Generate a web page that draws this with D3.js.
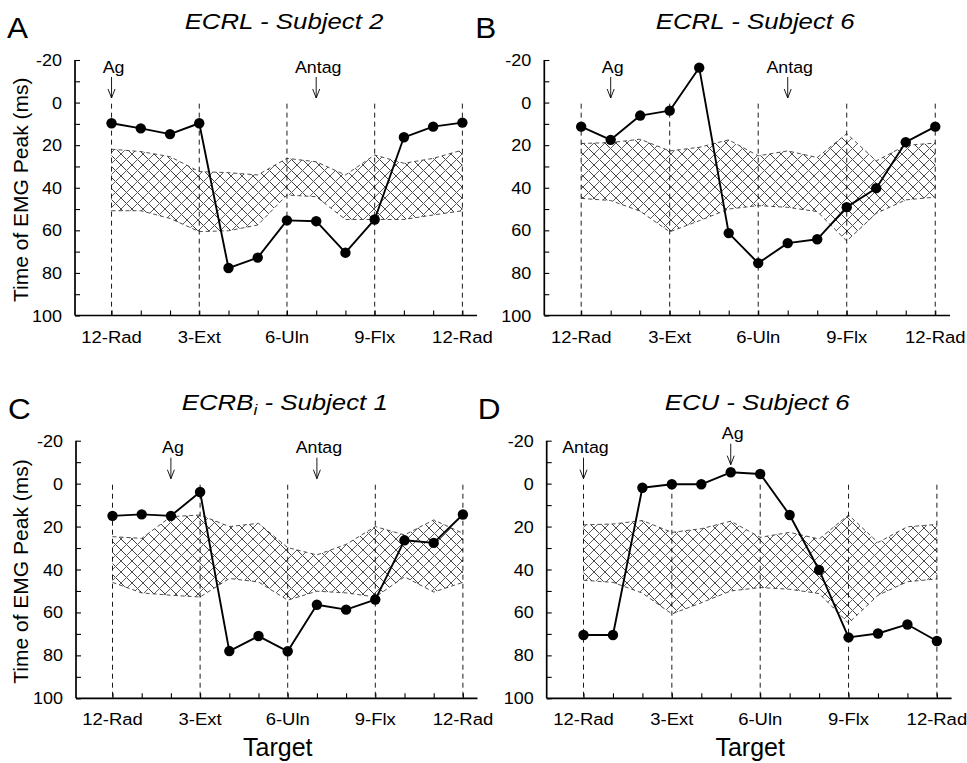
<!DOCTYPE html>
<html>
<head>
<meta charset="utf-8">
<script src="https://cdn.jsdelivr.net/npm/d3@7"></script>
<style>
  html, body { margin: 0; padding: 0; background: #fff; }
  svg { display: block; font-family: "Liberation Sans", Arial, Helvetica, sans-serif; }
</style>
</head>
<body>
<svg id="fig" width="967" height="763"></svg>
<script>
// ---- data -------------------------------------------------------------
// 13 targets around the clock (0 = 12-Rad ... 12 = 12-Rad again)
const targetIndex = d3.range(13);
const majorTargets = [0, 3, 6, 9, 12];
const majorLabels = ["12-Rad", "3-Ext", "6-Uln", "9-Flx", "12-Rad"];
const yLabelTicks = [-20, 0, 20, 40, 60, 80, 100];
const yMinorTicks = [-20, -10, 0, 10, 20, 30, 40, 50, 60, 70, 80, 90, 100];

// Time of EMG peak (ms) for the probed muscle
const peakA = [9.7, 12.1, 14.8, 9.7, 77.7, 72.8, 55.3, 55.7, 70.5, 54.9, 16.3, 11.3, 9.4];
const peakB = [11.3, 17.5, 6.1, 3.8, -16.4, 61.3, 75.4, 66, 64.2, 49.1, 40.2, 18.6, 11.3];
const peakC = [15, 14.3, 15, 3.9, 78, 71, 78.1, 56.4, 58.7, 54, 26.4, 27.6, 14.4];
const peakD = [70.5, 70.5, 1.9, 0.3, 0.3, -5.3, -4.5, 14.6, 40.2, 71.6, 69.8, 65.6, 73.3];

// Reference band (upper / lower limit, ms) for each subject
const bandUpperS2 = [21.9, 23.0, 25.4, 32.4, 32.9, 34, 26.2, 27.8, 34, 24.6, 28.5, 26.2, 22.3];
const bandLowerS2 = [50.8, 50.8, 54.4, 60.6, 60.2, 57.5, 43.4, 44.2, 54.9, 54.9, 54.9, 52.8, 50.8];
const bandUpperS6 = [19.2, 18.8, 17.2, 22.7, 21, 17.5, 25, 22.7, 25.8, 14.6, 27.4, 20.1, 19];
const bandLowerS6 = [45, 46, 51, 60.7, 55.5, 50, 48.4, 49.2, 51.2, 65, 52, 45.7, 44.4];
const bandUpperS1 = [24.7, 25.5, 15.4, 14.6, 20, 18.5, 29.8, 33.2, 28.3, 20, 23.9, 16.9, 23.1];
const bandLowerS1 = [46, 50.9, 52, 52.8, 44.2, 45.8, 54.3, 50.1, 50.9, 52.8, 43.4, 50.5, 46];

// Agonist / antagonist target markers: [label, target index]
const markersA = [["Ag", 0], ["Antag", 7]];
const markersB = [["Ag", 1], ["Antag", 7]];
const markersC = [["Ag", 2], ["Antag", 7]];
const markersD = [["Antag", 0], ["Ag", 5]];

// ---- layout -----------------------------------------------------------
const panels = [
  { letter: "A", title: ["ECRL - Subject 2"], peak: peakA, up: bandUpperS2, lo: bandLowerS2,
    markers: markersA, left: 75, right: 477, top: 60, bottom: 315.5, yTitle: true, xTitle: false, raised: [] },
  { letter: "B", title: ["ECRL - Subject 6"], peak: peakB, up: bandUpperS6, lo: bandLowerS6,
    markers: markersB, left: 544.3, right: 950, top: 60, bottom: 315.5, yTitle: false, xTitle: false, raised: [] },
  { letter: "C", title: ["ECRB", "i", " - Subject 1"], peak: peakC, up: bandUpperS1, lo: bandLowerS1,
    markers: markersC, left: 76, right: 477.5, top: 440.7, bottom: 698.3, yTitle: true, xTitle: true, raised: [] },
  { letter: "D", title: ["ECU - Subject 6"], peak: peakD, up: bandUpperS6, lo: bandLowerS6,
    markers: markersD, left: 546.7, right: 951.6, top: 440.7, bottom: 698.3, yTitle: false, xTitle: true, raised: ["Ag"] }
];

const svg = d3.select("#fig");

// cross-hatch fill for the reference band
const defs = svg.append("defs");
const pat = defs.append("pattern")
  .attr("id", "xhatch")
  .attr("patternUnits", "userSpaceOnUse")
  .attr("width", 11).attr("height", 11);
pat.append("path").attr("d", "M-1,-1L12,12M-1,10L1,12M10,-1L12,1")
  .attr("stroke", "#3e3e3e").attr("stroke-width", 1).attr("fill", "none");
pat.append("path").attr("d", "M-1,12L12,-1M-1,1L1,-1M10,12L12,10")
  .attr("stroke", "#5e5e5e").attr("stroke-width", 1).attr("fill", "none");

// text helper with a slight horizontal stretch
function stretchedText(g, x, y, str, size, sx, anchor, extra) {
  const t = g.append("text")
    .attr("transform", `translate(${x},${y}) scale(${sx},1)`)
    .attr("font-size", size)
    .attr("text-anchor", anchor || "middle")
    .attr("fill", "#000");
  if (extra) extra(t);
  if (str !== null) t.text(str);
  return t;
}

panels.forEach(p => {
  const g = svg.append("g");
  const x = d3.scaleLinear().domain([-1.25, 12.5]).range([p.left, p.right]);
  const y = d3.scaleLinear().domain([-20, 100]).range([p.top, p.bottom]);

  // reference band
  const area = d3.area()
    .x((d, i) => x(i))
    .y0((d, i) => y(p.lo[i]))
    .y1((d, i) => y(p.up[i]));
  g.append("path").datum(targetIndex)
    .attr("d", area)
    .attr("fill", "url(#xhatch)");
  const edge = d3.line().x((d, i) => x(i)).y(d => y(d));
  [p.up, p.lo].forEach(arr => {
    g.append("path").datum(arr)
      .attr("d", edge)
      .attr("fill", "none")
      .attr("stroke", "#3a3a3a")
      .attr("stroke-width", 0.9)
      .attr("stroke-dasharray", "4,3");
  });

  // dashed guides at the cardinal targets
  g.selectAll("line.guide").data(majorTargets).join("line")
    .attr("class", "guide")
    .attr("x1", d => x(d)).attr("x2", d => x(d))
    .attr("y1", y(0.5)).attr("y2", p.bottom)
    .attr("stroke", "#000").attr("stroke-width", 0.9)
    .attr("stroke-dasharray", "5,4");

  // axes
  const yAxis = d3.axisRight(y).tickValues(yMinorTicks).tickSize(5).tickFormat("");
  const ga = g.append("g").attr("transform", `translate(${p.left},0)`).call(yAxis);
  ga.select(".domain").attr("d", `M0,${p.top}V${p.bottom}`).attr("stroke-width", 1.7);
  ga.selectAll(".tick line").attr("stroke-width", 1.1);

  const xAxis = d3.axisTop(x).tickValues(targetIndex).tickSize(5).tickFormat("");
  const gx = g.append("g").attr("transform", `translate(0,${p.bottom})`).call(xAxis);
  gx.select(".domain").attr("d", `M${p.left},0H${p.right}`).attr("stroke-width", 1.7);
  gx.selectAll(".tick line").attr("stroke-width", 1.1);

  // y tick labels
  yLabelTicks.forEach(v => {
    stretchedText(g, p.left - 13, y(v) + 6, String(v), 17, 1.06, "end");
  });
  // x tick labels
  majorTargets.forEach((t, i) => {
    stretchedText(g, x(t), p.bottom + 27, majorLabels[i], 16.8, 1.1, "middle");
  });

  // peak-time trace
  const line = d3.line().x((d, i) => x(i)).y(d => y(d));
  g.append("path").datum(p.peak)
    .attr("d", line)
    .attr("fill", "none")
    .attr("stroke", "#000")
    .attr("stroke-width", 1.9)
    .attr("stroke-linejoin", "round");
  g.selectAll("circle.pt").data(p.peak).join("circle")
    .attr("class", "pt")
    .attr("cx", (d, i) => x(i))
    .attr("cy", d => y(d))
    .attr("r", 5.2)
    .attr("fill", "#000");

  // Ag / Antag markers
  p.markers.forEach(([lab, idx]) => {
    const shift = p.raised.includes(lab) ? -14 : 0;
    const cx = x(idx);
    const y0 = p.top + 17 + shift, y1 = p.top + 38 + shift;
    stretchedText(g, cx + 2, p.top + 12.5 + shift, lab, 16.5, 1.08, "middle");
    g.append("path")
      .attr("d", `M${cx},${y0}V${y1}M${cx - 3.5},${y1 - 9}L${cx},${y1}L${cx + 3.5},${y1 - 9}`)
      .attr("fill", "none").attr("stroke", "#000").attr("stroke-width", 0.9);
  });

  // panel title
  const cxT = (p.left + p.right) / 2 + 8;
  stretchedText(g, cxT, p.top - 31, null, 21.5, 1.2, "middle", t => {
    t.attr("font-style", "italic");
    t.append("tspan").text(p.title[0]);
    if (p.title.length > 1) {
      t.append("tspan").attr("font-size", 14.5).attr("dy", 5).text(p.title[1]);
      t.append("tspan").attr("dy", -5).text(p.title[2]);
    }
  });

  // panel letter
  stretchedText(g, p.left - 68 + (p.letter === "B" || p.letter === "D" ? -1 : 0), p.top - 22, p.letter, 30, 1.05, "start");

  // axis titles
  if (p.yTitle) {
    g.append("text")
      .attr("transform", `translate(28,${(p.top + p.bottom) / 2 + 2}) rotate(-90)`)
      .attr("text-anchor", "middle")
      .attr("font-size", 21)
      .text("Time of EMG Peak (ms)");
  }
  if (p.xTitle) {
    g.append("text")
      .attr("x", (p.left + p.right) / 2 + 1)
      .attr("y", p.bottom + 58)
      .attr("text-anchor", "middle")
      .attr("font-size", 25)
      .text("Target");
  }
});
</script>
</body>
</html>
